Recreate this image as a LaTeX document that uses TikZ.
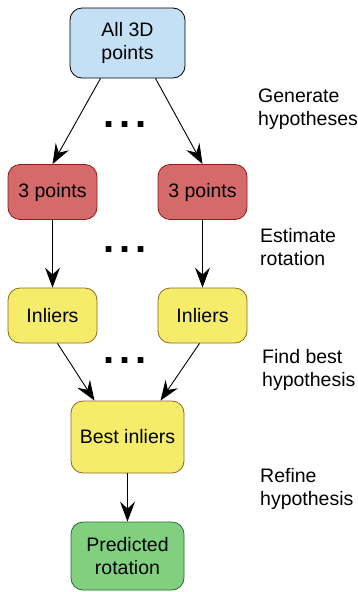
\documentclass[tikz,border=0pt]{standalone}
\usepackage{fontspec}
\setmainfont{Liberation Sans}
\usetikzlibrary{arrows.meta}
\definecolor{blueFill}{HTML}{C4E0F4}
\definecolor{redFill}{HTML}{D46A6A}
\definecolor{redLine}{HTML}{8A1C1C}
\definecolor{yellowFill}{HTML}{F4EC6A}
\definecolor{yellowLine}{HTML}{8C6A1E}
\definecolor{greenFill}{HTML}{80D080}
\definecolor{greenLine}{HTML}{2C6A2C}
\begin{document}
\begin{tikzpicture}[x=1pt,y=-1pt,font=\fontsize{19.5}{23}\selectfont,
	box/.style={draw,rounded corners=12pt,align=center,inner sep=0pt,line width=0.8pt,minimum width=89pt,minimum height=55pt},
	arr/.style={-{Stealth[length=20pt,width=15pt,inset=7pt]},line width=0.9pt},
	dots/.style={font=\fontsize{40}{40}\selectfont\bfseries,anchor=base,inner sep=0pt},
	step label/.style={anchor=west,align=left,inner sep=0pt}]
	\useasboundingbox (0,0) rectangle (358,592);
	% boxes
	\node[box,fill=blueFill,minimum width=115pt,minimum height=70pt] (all) at (127.5,43) {All 3D\\points};
	\node[box,fill=redFill,draw=redLine] (pts1) at (52.5,192) {3 points};
	\node[box,fill=redFill,draw=redLine] (pts2) at (202.5,192) {3 points};
	\node[box,fill=yellowFill,draw=yellowLine] (inl1) at (52.5,315.5) {Inliers};
	\node[box,fill=yellowFill,draw=yellowLine] (inl2) at (202.5,315.5) {Inliers};
	\node[box,fill=yellowFill,draw=yellowLine,minimum width=113pt,minimum height=72pt] (best) at (127.5,437) {Best inliers};
	\node[box,fill=greenFill,draw=greenLine,minimum width=113pt,minimum height=68pt] (pred) at (127.5,556) {Predicted\\rotation};
	% dots
	\node[dots] (d1) at (125,127) {.\kern5pt.\kern5pt.};
	\node[dots] (d2) at (125,252) {.\kern5pt.\kern5pt.};
	\node[dots] (d3) at (125,363) {.\kern5pt.\kern5pt.};
	% arrows
	\draw[arr] ([xshift=-27pt]all.south) -- (pts1.north);
	\draw[arr] ([xshift=28pt]all.south) -- (pts2.north);
	\draw[arr] (pts1) -- (inl1);
	\draw[arr] (pts2) -- (inl2);
	\draw[arr] ([xshift=5pt]inl1.south) -- ([xshift=-33pt]best.north);
	\draw[arr] ([xshift=-3pt]inl2.south) -- ([xshift=33pt]best.north);
	\draw[arr] (best) -- (pred);
	% step labels
	\node[step label] (s1) at (258,109) {Generate\\hypotheses};
	\node[step label] (s2) at (260,247) {Estimate\\rotation};
	\node[step label] (s3) at (262,370) {Find best\\hypothesis};
	\node[step label] (s4) at (260,489) {Refine\\hypothesis};
\end{tikzpicture}
\end{document}
